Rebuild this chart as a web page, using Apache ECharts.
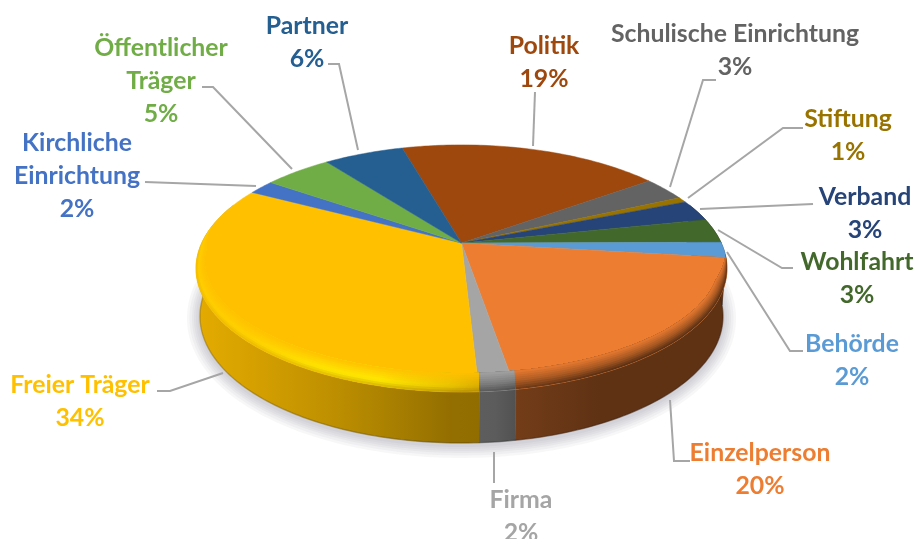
<!DOCTYPE html>
<html>
<head>
<meta charset="utf-8" />
<style>
  html, body { margin: 0; padding: 0; background: #fff; }
  #chart { width: 915px; height: 539px; }
</style>
<script src="https://cdn.jsdelivr.net/npm/echarts@6/dist/echarts.min.js"></script>
</head>
<body>
<div id="chart"></div>
<script>
// slices, clockwise from the Partner/Politik edge
const categories = ["Politik", "Schulische Einrichtung", "Stiftung", "Verband", "Wohlfahrt", "Behörde", "Einzelperson", "Firma", "Freier Träger", "Kirchliche Einrichtung", "Öffentlicher Träger", "Partner"];
const values = [19.4, 3.2, 0.7, 2.8, 3.2, 2.0, 20.4, 1.8, 33.6, 1.9, 5.0, 5.9];
const colors = ["#9E480E", "#636363", "#997300", "#264478", "#43682B", "#5B9BD5", "#ED7D31", "#A5A5A5", "#FFC000", "#4472C4", "#70AD47", "#255E91"];
const labelLines = [
  ["Politik"], ["Schulische Einrichtung"], ["Stiftung"], ["Verband"], ["Wohlfahrt"], ["Behörde"],
  ["Einzelperson"], ["Firma"], ["Freier Träger"], ["Kirchliche", "Einrichtung"], ["Öffentlicher", "Träger"], ["Partner"],
];

// label layout: [centre x, top y]
const labelPos = [[544, 30], [735, 18], [848, 103], [865, 181], [857, 246], [852, 328], [760, 437], [521, 484], [80, 369], [77, 127], [161, 32], [307, 10]];
const leaders = [
  [[535, 92], [533, 146]],
  [[716, 80], [703, 80], [670, 187]],
  [[803, 128], [783, 128], [688, 198]],
  [[813, 204], [700, 209]],
  [[793, 268], [782, 268], [718, 230]],
  [[803, 351], [790, 351], [727, 252]],
  [[690, 461], [674, 461], [670, 400]],
  [[494, 483], [494, 452]],
  [[157, 391], [170, 391], [223, 373]],
  [[145, 182], [256, 186]],
  [[202, 87], [213, 87], [292, 169]],
  [[328, 64], [339, 64], [358, 150]],
];

// pie geometry: flat disc seen in perspective
const CX = 461.5, CY = 243, RX = 259.8, RY = 118.3, PERSP = 0.206;
const START = -15.9;
const total = values.reduce((a, b) => a + b, 0);

function project(deg, r) {
  const t = (deg * Math.PI) / 180;
  const u = Math.sin(t) * r;
  const v = -Math.cos(t) * r;
  const d = 1 - PERSP * v;
  return { x: CX + (RX * u) / d, y: CY + (RY * v) / d, u, v };
}

function bottomPoint(deg) {
  const p = project(deg, 1);
  return [CX + (p.x - CX) * 0.985, p.y + 47 + 4 * p.v];
}

function rgb(hex) {
  return [1, 3, 5].map((i) => parseInt(hex.substr(i, 2), 16));
}
function mix(a, b, t) {
  return a.map((c, i) => c + (b[i] - c) * t);
}
function css(c) {
  return "rgb(" + c.map(Math.round).join(",") + ")";
}

// side wall shading by screen x
const shadeX = [190, 250, 320, 380, 450, 495, 520, 600, 735];
const shadeK = [0.9, 0.84, 0.76, 0.68, 0.58, 0.56, 0.48, 0.4, 0.4];
function wallColor(base, idx) {
  return base.map((c) => c * shadeK[idx]);
}
function xGradient(fn) {
  return {
    type: "linear", x: shadeX[0], y: 0, x2: shadeX[shadeX.length - 1], y2: 0, global: true,
    colorStops: shadeX.map((x, i) => ({
      offset: (x - shadeX[0]) / (shadeX[shadeX.length - 1] - shadeX[0]),
      color: fn(i, x),
    })),
  };
}

function bevelColor(i, s, idx, x) {
  // s: 0 at the rim, 1 on the flat top
  const base = rgb(colors[i]);
  const wall = wallColor(base, idx);
  if (categories[i] === "Freier Träger") {
    // thin highlight, strongest on the front left
    const rise = Math.min(1, Math.max(0, (x - 230) / 100));
    const fade = Math.min(1, Math.max(0, (x - 420) / 60));
    const high = mix(mix(rgb("#FFCC00"), rgb("#FFE800"), rise), rgb("#D2A000"), fade);
    if (s > 0.25) return mix(high, base, (s - 0.25) / 0.75);
    return mix(mix(wall, high, 0.6), high, s / 0.25);
  }
  const high = mix(base, wall, 0.5);
  if (s > 0.4) return mix(high, base, (s - 0.4) / 0.6);
  return mix(wall, high, s / 0.4);
}

function sliceAngles(i) {
  let a = START;
  for (let k = 0; k < i; k++) a += (values[k] / total) * 360;
  return [a, a + (values[i] / total) * 360];
}

function arc(a0, a1) {
  const out = [];
  const n = Math.max(2, Math.ceil(a1 - a0));
  for (let j = 0; j <= n; j++) out.push(a0 + ((a1 - a0) * j) / n);
  return out;
}

function renderSlice(params, api) {
  const i = params.dataIndex;
  const value = api.value(1);
  const [a0, a1] = sliceAngles(i);
  const base = rgb(colors[i]);
  const children = [];

  // side wall, front part only
  const f0 = Math.max(a0, 70), f1 = Math.min(a1, 290);
  if (f1 > f0) {
    const angles = arc(f0, f1);
    const rim = angles.map((d) => { const p = project(d, 1); return [p.x, p.y]; });
    const bottom = angles.map(bottomPoint);
    const fill = xGradient((idx) => css(wallColor(base, idx)));
    children.push({
      type: "polygon", z2: 2,
      shape: { points: rim.concat(bottom.slice().reverse()) },
      style: { fill, stroke: fill, lineWidth: 0.5 },
    });
    children.push({
      type: "polyline", z2: 3,
      shape: { points: bottom },
      style: { fill: null, stroke: "rgba(0,0,0,0.18)", lineWidth: 1.5 },
    });
  }

  // flat top
  const top = arc(a0, a1).map((d) => { const p = project(d, 1); return [p.x, p.y]; });
  children.push({
    type: "polygon", z2: 4,
    shape: { points: [[CX, CY]].concat(top) },
    style: { fill: colors[i], stroke: colors[i], lineWidth: 0.5 },
  });

  // soft bevel along the front rim, starts lower on the right side
  const b0 = Math.max(a0, 60), b1 = Math.min(a1, 300);
  if (b1 > b0) {
    const angles = arc(b0, b1);
    const steps = 9;
    const curve = (s) => angles.map((d) => {
      const p = project(d, 1);
      const from = p.u > 0 ? 0.1 : -0.15;
      const w = Math.pow(Math.max(0, (p.v - from) / (1 - from)), 0.75);
      const side = Math.min(1, Math.max(0, (p.v - from) * 4));
      return [p.x - s * 9 * p.u * side, p.y - s * 19 * w];
    });
    for (let k = 0; k < steps; k++) {
      const s0 = k / steps;
      const fill = xGradient((idx, x) => css(bevelColor(i, s0, idx, x)));
      children.push({
        type: "polygon", z2: 5 + k,
        shape: { points: curve(s0).concat(curve(1).reverse()) },
        style: { fill },
      });
    }
  }

  // leader line
  children.push({
    type: "polyline", z2: 30,
    shape: { points: leaders[i] },
    style: { fill: null, stroke: "#A6A6A6", lineWidth: 2 },
  });

  // label
  const text = labelLines[i].concat(Math.round(value) + "%").join("\n");
  children.push({
    type: "text", z2: 31,
    style: {
      x: labelPos[i][0], y: labelPos[i][1],
      text,
      fill: colors[i],
      font: "bold 24.8px Lato",
      lineHeight: 33,
      align: "center", verticalAlign: "top",
    },
  });

  return { type: "group", children };
}

// soft haze around the foot of the pie, front part only
function renderShadow() {
  const pts = arc(80, 280).map(bottomPoint).map((p) => [p[0], p[1] + 2]);
  const widths = [26, 21, 16, 12, 8, 4];
  return {
    type: "group",
    children: widths.map((w, k) => ({
      type: "polyline", z2: k,
      shape: { points: pts },
      style: { fill: null, stroke: "rgba(95,95,115,0.05)", lineWidth: w },
    })),
  };
}

const chart = echarts.init(document.getElementById("chart"));
chart.setOption({
  backgroundColor: "#fff",
  animation: false,
  series: [
    {
      type: "custom", coordinateSystem: "none", silent: true, z: 1,
      renderItem: renderShadow,
      data: [0],
    },
    {
      type: "custom", coordinateSystem: "none", silent: true, z: 2,
      renderItem: renderSlice,
      encode: { itemName: 0, value: 1 },
      data: categories.map((name, i) => [name, values[i]]),
    },
  ],
});
</script>
</body>
</html>
